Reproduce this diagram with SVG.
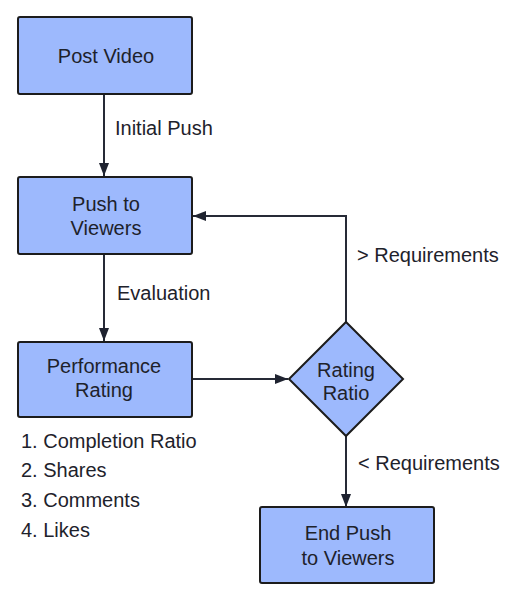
<svg xmlns="http://www.w3.org/2000/svg" width="518" height="597" viewBox="0 0 518 597">
<style>
.box{fill:#9db9fd;stroke:#1c1c1c;stroke-width:2}
.t{font-family:"Liberation Sans",Arimo,Arial,Helvetica,sans-serif;font-size:20px;fill:#1e222b}
.c{text-anchor:middle}
.ln{fill:none;stroke:#262a36;stroke-width:2}
</style>
<defs>
<marker id="ah" viewBox="0 0 13 10" refX="13" refY="5" markerWidth="13" markerHeight="10" markerUnits="userSpaceOnUse" orient="auto">
<path d="M0,0 L13,5 L0,10 Z" fill="#1f2330"/>
</marker>
</defs>
<rect width="518" height="597" fill="#fff"/>
<g id="connectors">
<line class="ln" x1="104" y1="94" x2="104" y2="176" marker-end="url(#ah)"/>
<line class="ln" x1="104" y1="255" x2="104" y2="341" marker-end="url(#ah)"/>
<line class="ln" x1="192" y1="379" x2="288" y2="379" marker-end="url(#ah)"/>
<polyline class="ln" points="346,323 346,216 193,216" marker-end="url(#ah)"/>
<line class="ln" x1="346" y1="436" x2="346" y2="507" stroke="#111" marker-end="url(#ah)"/>
<text class="t" x="115" y="135">Initial Push</text>
<text class="t" x="117" y="300">Evaluation</text>
<text class="t" x="357" y="262">&gt; Requirements</text>
<text class="t" x="358" y="470">&lt; Requirements</text>
</g>
<g id="post-video">
<rect class="box" x="18" y="17" width="174" height="77" rx="2"/>
<text class="t c" x="106" y="63">Post Video</text>
</g>
<g id="push-to-viewers">
<rect class="box" x="18" y="177" width="174" height="77" rx="2"/>
<text class="t c" x="106" y="211">Push to</text>
<text class="t c" x="106" y="235">Viewers</text>
</g>
<g id="performance-rating">
<rect class="box" x="18" y="342" width="174" height="75" rx="2"/>
<text class="t c" x="104" y="373">Performance</text>
<text class="t c" x="104" y="397">Rating</text>
</g>
<g id="metrics">
<text class="t" x="21" y="448">1. Completion Ratio</text>
<text class="t" x="21" y="477">2. Shares</text>
<text class="t" x="21" y="507">3. Comments</text>
<text class="t" x="21" y="537">4. Likes</text>
</g>
<g id="rating-ratio">
<polygon class="box" points="346,322 403,379 346,436 289,379"/>
<text class="t c" x="346" y="377">Rating</text>
<text class="t c" x="346" y="400">Ratio</text>
</g>
<g id="end-push">
<rect class="box" x="260" y="507" width="174" height="76" rx="2"/>
<text class="t c" x="348" y="540">End Push</text>
<text class="t c" x="348" y="565">to Viewers</text>
</g>
</svg>
